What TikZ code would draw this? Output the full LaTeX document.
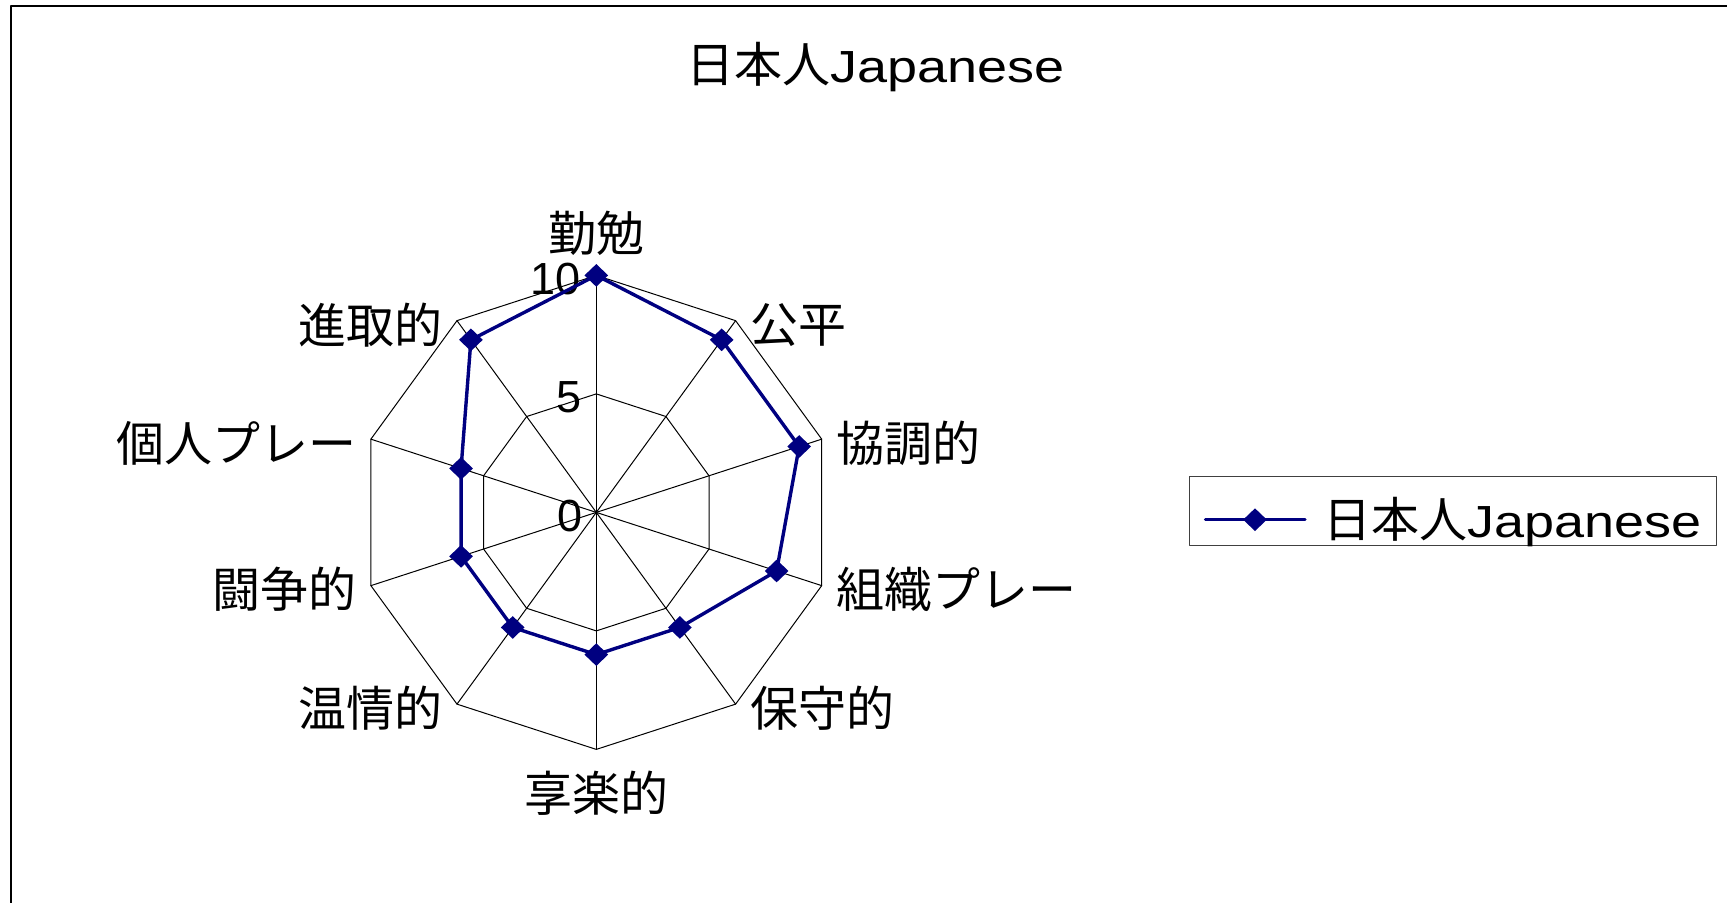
\documentclass[tikz,border=0pt]{standalone}
\usepackage{fontspec}
\setmainfont[FakeStretch=1.2]{Liberation Sans}
\newfontfamily\numfont{Liberation Sans}
\newfontfamily\cjkfont{Noto Sans CJK JP}
\newcommand{\jp}[1]{{\cjkfont\fontsize{24}{28}\selectfont #1}}
\usetikzlibrary{shapes.geometric}
\definecolor{navyline}{RGB}{0,0,128}

\tikzset{
  grid line/.style={black, line width=0.5pt},
  series line/.style={navyline, line width=1.7pt},
  marker/.style={diamond, fill=navyline, inner sep=0pt, minimum width=12pt, minimum height=11.5pt},
  axis label/.style={font=\cjkfont\fontsize{24}{28}\selectfont, inner sep=7pt},
  tick label/.style={font=\numfont\fontsize{22.5}{26}\selectfont, anchor=east, inner sep=0pt},
  legend box/.style={draw=black!75, line width=0.5pt, minimum width=263.5pt, minimum height=34.5pt, inner sep=0pt},
}

\begin{document}
\begin{tikzpicture}[line cap=round, line join=round, x=0.5pt, y=0.5pt]
                \useasboundingbox (-596.3,-390.6) rectangle (1130.7,512.4);

                % frame
                \draw[line width=1pt] (-585.3,-400) -- (-585.3,506.4) -- (1140,506.4);

                % title
                \node[anchor=base] (title) at (279,430) {\fontsize{22.5}{27}\selectfont\jp{日本人}Japanese};

                % grid
                \coordinate (c) at (0,0);
                \foreach \k in {0,...,9} {
                    \coordinate (o\k) at ({90-36*\k}:237);
                    \coordinate (h\k) at ({90-36*\k}:118.5);
                }
                \draw[grid line] (o0) \foreach \k in {1,...,9} {-- (o\k)} -- cycle;
                \draw[grid line] (h0) \foreach \k in {1,...,9} {-- (h\k)} -- cycle;
                \foreach \k in {0,...,9} \draw[grid line] (c) -- (o\k);

                % scale
                \node[tick label] (t0) at (-13,-3.6) {0};
                \node[tick label] (t5) at (-14,115.4) {5};
                \node[tick label] (t10) at (-15,233.4) {10};

                % axis names
                \foreach \lab/\anc/\dy [count=\k from 0] in {勤勉/south/2.6pt, 公平/west/-2pt, 協調的/west/-2pt, 組織プレー/west/-2pt, 保守的/west/-2pt, 享楽的/north/-3.8pt, 温情的/east/-2pt, 闘争的/east/-2pt, 個人プレー/east/-2pt, 進取的/east/-2pt}
                    \node[axis label, anchor=\anc, yshift=\dy] (a\k) at (o\k) {\lab};

                % series
                \foreach \v [count=\k from 0] in {10,9,9,8,6,6,6,6,6,9}
                    \coordinate (d\k) at ({90-36*\k}:{23.7*\v});
                \draw[series line] (d0) \foreach \k in {1,...,9} {-- (d\k)} -- cycle;
                \foreach \k in {0,...,9} \node[marker] (m\k) at (d\k) {};

                % legend
                \node[legend box] (legend) at (856.2,0.9) {};
                \coordinate (la) at (609.2,-7.3);
                \coordinate (lb) at (708.7,-7.3);
                \draw[series line] (la) -- (lb);
                \node[marker] (lm) at (658.7,-7.3) {};
                \node[anchor=base west, inner sep=0pt] (ltext) at (726.7,-25.6) {\fontsize{22.5}{27}\selectfont\jp{日本人}Japanese};
            \end{tikzpicture}
\end{document}
